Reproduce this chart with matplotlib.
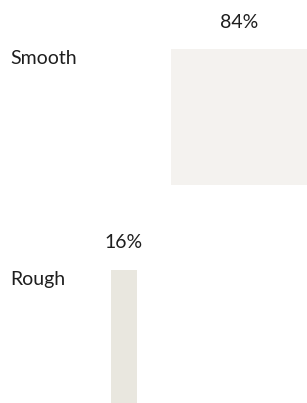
import matplotlib
matplotlib.use("Agg")
import matplotlib.pyplot as plt
import numpy as np

categories = ["Smooth", "Rough"]
values = [84, 16]
labels = ["84%", "16%"]

W, H = 307, 403
fig = plt.figure(figsize=(W / 100, H / 100), dpi=100)
ax = fig.add_axes([0, 0, 1, 1])
ax.set_xlim(0, W)
ax.set_ylim(H, 0)
ax.axis("off")

plt.rcParams["font.family"] = ["Lato", "DejaVu Sans"]

# layout (pixels)
scale = 1.62          # px per percent of width
centers = [239, 124]
tops = [49, 270]
bar_h = 136
colors = ["#f4f2ef", "#e9e7df"]
cat_y = [58, 280]
lab_y = [22, 243]

for i, (cat, v, lab) in enumerate(zip(categories, values, labels)):
    ax.bar(centers[i], bar_h, width=v * scale, bottom=tops[i],
           color=colors[i], linewidth=0, align="center")
    ax.text(10, cat_y[i], cat, fontsize=14, color="#1e1e1e",
            ha="left", va="center", fontweight="normal")
    ax.text(centers[i], lab_y[i], lab, fontsize=14, color="#1e1e1e",
            ha="center", va="center", fontweight="normal")

fig.savefig("out.png", dpi=100)
